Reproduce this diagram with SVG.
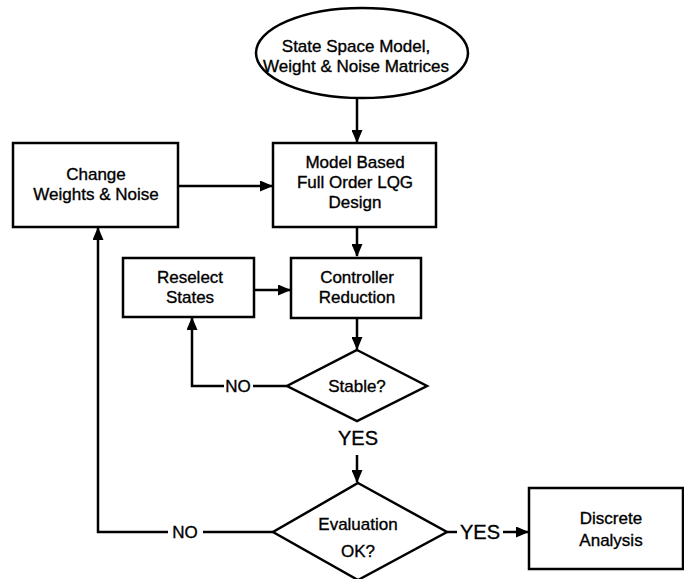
<svg xmlns="http://www.w3.org/2000/svg" width="684" height="579" viewBox="0 0 684 579">
<defs>
<style>
.shape{fill:#fff;stroke:#000;stroke-width:2.5}
.ln{fill:none;stroke:#000;stroke-width:2.5}
text{font-family:"Liberation Sans",Arial,sans-serif;font-size:17px;fill:#000;stroke:#000;stroke-width:0.35;text-anchor:middle}
.big{font-size:20px}
</style>
<marker id="ah" viewBox="0 0 13 11" refX="12" refY="5.5" markerWidth="13" markerHeight="11" markerUnits="userSpaceOnUse" orient="auto">
<path d="M0,0 L13,5.5 L0,11 Z" fill="#000"/>
</marker>
</defs>
<g id="connectors">
<line class="ln" x1="357" y1="98" x2="357" y2="142" marker-end="url(#ah)"/>
<line class="ln" x1="178" y1="186" x2="272" y2="186" marker-end="url(#ah)"/>
<line class="ln" x1="357" y1="227" x2="357" y2="256" marker-end="url(#ah)"/>
<line class="ln" x1="254" y1="290" x2="290" y2="290" marker-end="url(#ah)"/>
<line class="ln" x1="357" y1="318" x2="357" y2="349" marker-end="url(#ah)"/>
<polyline class="ln" points="287,386 253,386"/>
<polyline class="ln" points="224,386 192,386 192,318" marker-end="url(#ah)"/>
<line class="ln" x1="357" y1="455" x2="357" y2="482" marker-end="url(#ah)"/>
<polyline class="ln" points="273,532 203,532"/>
<polyline class="ln" points="168,532 98,532 98,228" marker-end="url(#ah)"/>
<line class="ln" x1="447" y1="532" x2="457" y2="532"/>
<line class="ln" x1="503" y1="532" x2="528" y2="532" marker-end="url(#ah)"/>
<text x="238" y="392">NO</text>
<text class="big" x="358" y="445">YES</text>
<text x="185" y="538">NO</text>
<text class="big" x="480" y="539">YES</text>
</g>
<g id="start">
<ellipse class="shape" cx="362" cy="53" rx="106" ry="45"/>
<text x="356" y="52">State Space Model,</text>
<text x="356" y="72">Weight &amp; Noise Matrices</text>
</g>
<g id="change">
<rect class="shape" x="13" y="143" width="165" height="84"/>
<text x="96" y="180">Change</text>
<text x="96" y="200">Weights &amp; Noise</text>
</g>
<g id="design">
<rect class="shape" x="273" y="143" width="163" height="84"/>
<text x="355" y="168">Model Based</text>
<text x="355" y="188">Full Order LQG</text>
<text x="355" y="208">Design</text>
</g>
<g id="reselect">
<rect class="shape" x="123" y="258" width="131" height="59"/>
<text x="190" y="283">Reselect</text>
<text x="190" y="303">States</text>
</g>
<g id="reduction">
<rect class="shape" x="291" y="258" width="130" height="60"/>
<text x="357" y="283">Controller</text>
<text x="357" y="303">Reduction</text>
</g>
<g id="stable">
<polygon class="shape" points="357,350 427,386 357,421 287,386"/>
<text x="357" y="392">Stable?</text>
</g>
<g id="evaluation">
<polygon class="shape" points="358,483 447,532 358,580 273,532"/>
<text x="358" y="530">Evaluation</text>
<text x="358" y="557">OK?</text>
</g>
<g id="discrete">
<rect class="shape" x="529" y="488" width="154" height="81"/>
<text x="611" y="524">Discrete</text>
<text x="611" y="546">Analysis</text>
</g>
</svg>
